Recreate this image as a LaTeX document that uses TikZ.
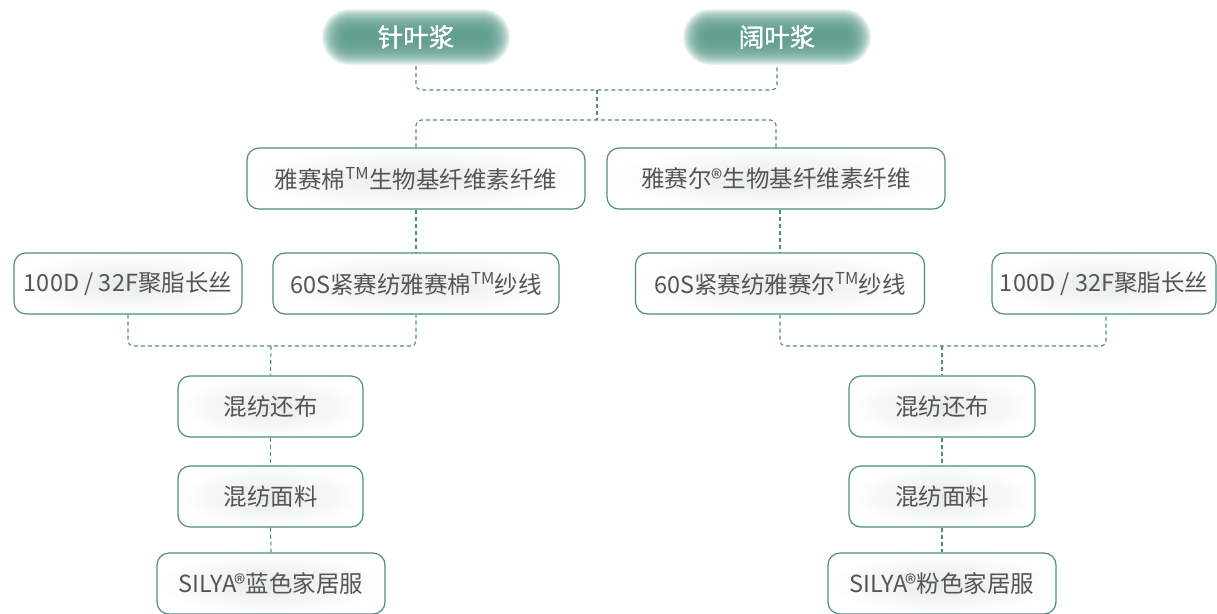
\documentclass[tikz,border=0pt]{standalone}
\usepackage{fontspec}
\setmainfont{Noto Sans CJK SC}
\newfontfamily\pillfont[FakeBold=1.2]{Noto Sans CJK SC}
\usetikzlibrary{calc}
\definecolor{tealb}{HTML}{4A8E7E}
\definecolor{pillc}{HTML}{58998A}
\definecolor{txt}{HTML}{555555}
\definecolor{boxin}{HTML}{E4ECE9}
\tikzset{
  box/.style={draw=tealb, line width=1.2pt, rounded corners=12pt, inner color=boxin, outer color=white,
    text=txt, font=\fontsize{23.5}{27}\selectfont, minimum height=61pt, inner sep=0pt, anchor=center},
  conn/.style={draw=tealb, line width=1.1pt, dash pattern=on 4pt off 3pt, rounded corners=5pt},
  pilltext/.style={text=white, font=\pillfont\fontsize{25.5}{29}\selectfont, inner sep=0pt}
}
\newcommand{\pill}[4]{% name, x, y, text
  \foreach \dd in {6,5,...,-16}{
    \fill[pillc, opacity=0.11, rounded corners={21.5pt+\dd pt}]
      (#2-88-\dd,#3-22-\dd) rectangle (#2+88+\dd,#3+22+\dd);
  }
  \node[pilltext] (#1) at (#2,#3) {#4};
}
\begin{document}
\begin{tikzpicture}[x=1pt,y=-1pt]
\useasboundingbox (0,0) rectangle (1217,613);
\pill{zy}{416}{37}{针叶浆}
\pill{ky}{777}{37}{阔叶浆}
\coordinate (zyb) at (416,66);
\coordinate (kyb) at (777,66);
\coordinate (m1) at (597,90);
\coordinate (m2) at (597,120);
% row 2
\node[box, minimum width=338pt] (A) at (416,178.5) {雅赛棉\textsuperscript{TM}生物基纤维素纤维};
\node[box, minimum width=338pt] (B) at (776,178.5) {雅赛尔®生物基纤维素纤维};
% row 3
\node[box, minimum width=228pt] (L100) at (128,283.5) {100D / 32F聚脂长丝};
\node[box, minimum width=286pt] (L60) at (416,283.5) {60S紧赛纺雅赛棉\textsuperscript{TM}纱线};
\node[box, minimum width=289pt] (R60) at (780,283.5) {60S紧赛纺雅赛尔\textsuperscript{TM}纱线};
\node[box, minimum width=224pt] (R100) at (1104,283.5) {100D / 32F聚脂长丝};
% rows 4-6
\node[box, minimum width=185pt] (LH) at (270.5,406.5) {混纺还布};
\node[box, minimum width=185pt] (LM) at (270.5,496.5) {混纺面料};
\node[box, minimum width=228pt] (LS) at (271,583.5) {SILYA®蓝色家居服};
\node[box, minimum width=186pt] (RH) at (942,406.5) {混纺还布};
\node[box, minimum width=186pt] (RM) at (942,496.5) {混纺面料};
\node[box, minimum width=228pt] (RS) at (942,583.5) {SILYA®粉色家居服};
\coordinate (c1) at (271,346);
\coordinate (c2) at (942,346);
% connectors
\draw[conn] (zyb) |- (m1) -| (kyb);
\draw[conn] (m1) -- (m2);
\draw[conn] (A.north) |- (m2) -| (B.north);
\draw[conn] (A.south) -- (L60.north);
\draw[conn] (R60.north |- B.south) -- (R60.north);
\draw[conn] (L100.south) |- (c1) -| (L60.south);
\draw[conn] (c1) -- (LH.north);
\draw[conn] (LH.south) -- (LM.north);
\draw[conn] (LM.south) -- (LS.north);
\draw[conn] (R60.south) |- (c2) -| ($(R100.south)+(2,0)$);
\draw[conn] (c2) -- (RH.north);
\draw[conn] (RH.south) -- (RM.north);
\draw[conn] (RM.south) -- (RS.north);
\end{tikzpicture}
\end{document}
